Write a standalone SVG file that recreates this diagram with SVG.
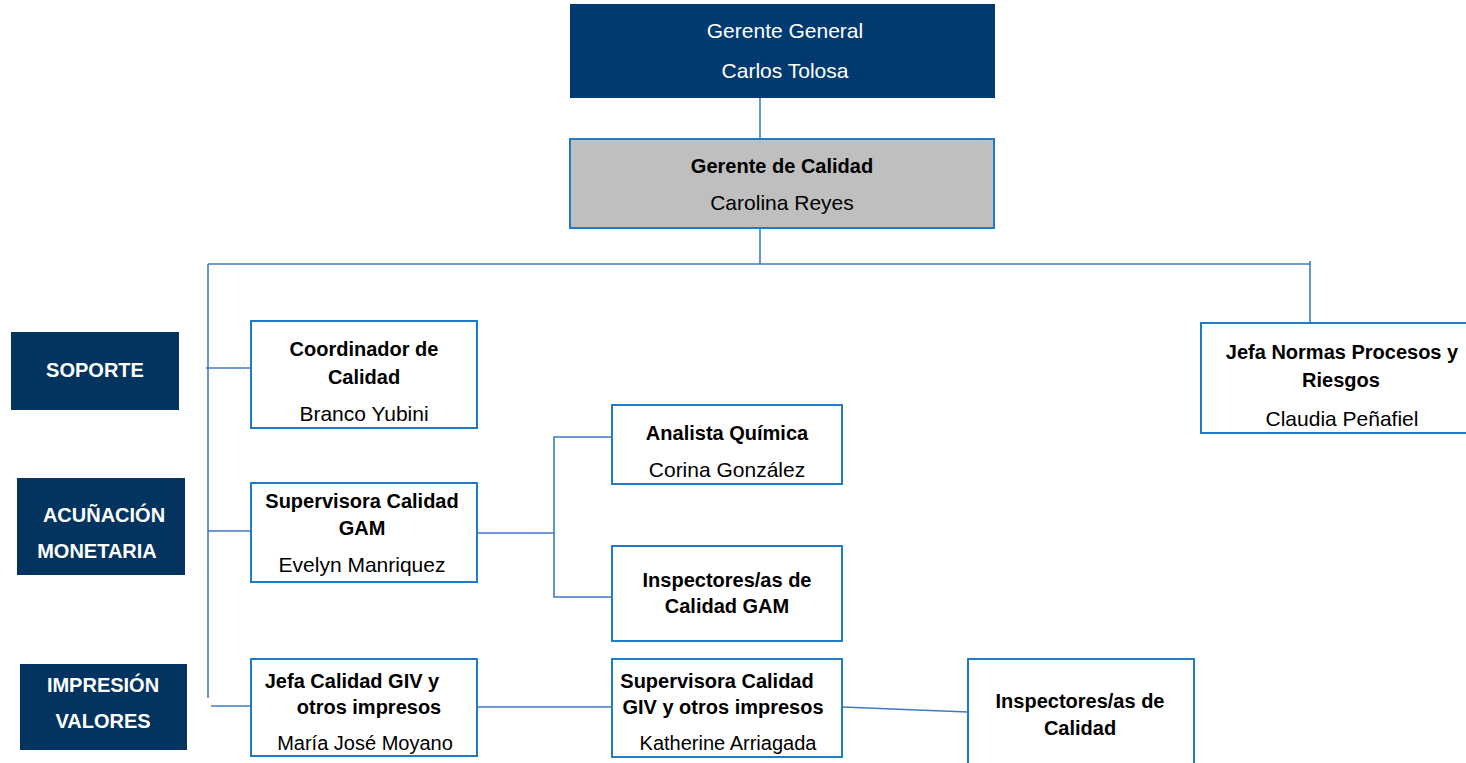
<svg xmlns="http://www.w3.org/2000/svg" width="1466" height="763" viewBox="0 0 1466 763">
<style>
  text { font-family: "Liberation Sans", Arial, sans-serif; font-size: 21px; text-anchor: middle; fill: #000; }
  .b { font-weight: bold; font-size: 20px; }
  .s { font-size: 20px; }
  .w { fill: #fff; }
  .box { fill: #fff; stroke: #1f7ac8; stroke-width: 2; }
  .navy { fill: #013a70; }
  .side { fill: #03345f; }
  .gray { fill: #bfbfbf; stroke: #1f7ac8; stroke-width: 2; }
  .con line, .con polyline { stroke: #3f7bc0; stroke-width: 1.6; fill: none; }
</style>
<rect width="1466" height="763" fill="#fff"/>
<g id="connectors" class="con">
  <line x1="760" y1="98" x2="760" y2="139"/>
  <line x1="760" y1="228" x2="760" y2="264"/>
  <line x1="208" y1="264" x2="1310" y2="264"/>
  <line x1="1310" y1="261" x2="1310" y2="323"/>
  <line x1="208" y1="264" x2="208" y2="698"/>
  <line x1="206" y1="368" x2="251" y2="368"/>
  <line x1="208" y1="531" x2="251" y2="531"/>
  <line x1="211" y1="706" x2="251" y2="706"/>
  <line x1="477" y1="533" x2="554" y2="533"/>
  <polyline points="612,437 554,437 554,597 612,597"/>
  <line x1="477" y1="707" x2="612" y2="707"/>
  <line x1="842" y1="707" x2="968" y2="712"/>
</g>
<g id="gerente-general">
  <rect class="navy" x="570" y="4" width="425" height="94"/>
  <text class="w" x="785" y="38">Gerente General</text>
  <text class="w" x="785" y="78">Carlos Tolosa</text>
</g>
<g id="gerente-calidad">
  <rect class="gray" x="570" y="139" width="424" height="89"/>
  <text class="b" x="782" y="173">Gerente de Calidad</text>
  <text x="782" y="210">Carolina Reyes</text>
</g>
<g id="soporte">
  <rect class="side" x="11" y="332" width="168" height="78"/>
  <text class="b w" x="95" y="377">SOPORTE</text>
</g>
<g id="acunacion">
  <rect class="side" x="17" y="478" width="168" height="97"/>
  <text class="b w" x="104" y="522">ACUÑACIÓN</text>
  <text class="b w" x="97" y="558">MONETARIA</text>
</g>
<g id="impresion">
  <rect class="side" x="20" y="664" width="167" height="86"/>
  <text class="b w" x="103" y="692">IMPRESIÓN</text>
  <text class="b w" x="103" y="728">VALORES</text>
</g>
<g id="coordinador">
  <rect class="box" x="251" y="321" width="226" height="107"/>
  <text class="b" x="364" y="356">Coordinador de</text>
  <text class="b" x="364" y="384">Calidad</text>
  <text x="364" y="421">Branco Yubini</text>
</g>
<g id="supervisora-gam">
  <rect class="box" x="251" y="483" width="226" height="99"/>
  <text class="b" x="362" y="508">Supervisora Calidad</text>
  <text class="b" x="362" y="535">GAM</text>
  <text x="362" y="572">Evelyn Manriquez</text>
</g>
<g id="analista">
  <rect class="box" x="612" y="405" width="230" height="79"/>
  <text class="b" x="727" y="440">Analista Química</text>
  <text x="727" y="477">Corina González</text>
</g>
<g id="inspectores-gam">
  <rect class="box" x="612" y="546" width="230" height="95"/>
  <text class="b" x="727" y="587">Inspectores/as de</text>
  <text class="b" x="727" y="613">Calidad GAM</text>
</g>
<g id="jefa-giv">
  <rect class="box" x="251" y="659" width="226" height="97"/>
  <text class="b" x="352" y="688">Jefa Calidad GIV y</text>
  <text class="b" x="369" y="714">otros impresos</text>
  <text class="s" x="365" y="750">María José Moyano</text>
</g>
<g id="supervisora-giv">
  <rect class="box" x="612" y="659" width="230" height="98"/>
  <text class="b" x="717" y="688">Supervisora Calidad</text>
  <text class="b" x="723" y="714">GIV y otros impresos</text>
  <text class="s" x="728" y="750">Katherine Arriagada</text>
</g>
<g id="inspectores-calidad">
  <rect class="box" x="968" y="659" width="226" height="110"/>
  <text class="b" x="1080" y="708">Inspectores/as de</text>
  <text class="b" x="1080" y="735">Calidad</text>
</g>
<g id="jefa-normas">
  <rect class="box" x="1201" y="323" width="270" height="110"/>
  <text class="b" x="1342" y="359">Jefa Normas Procesos y</text>
  <text class="b" x="1341" y="387">Riesgos</text>
  <text x="1342" y="426">Claudia Peñafiel</text>
</g>
</svg>
